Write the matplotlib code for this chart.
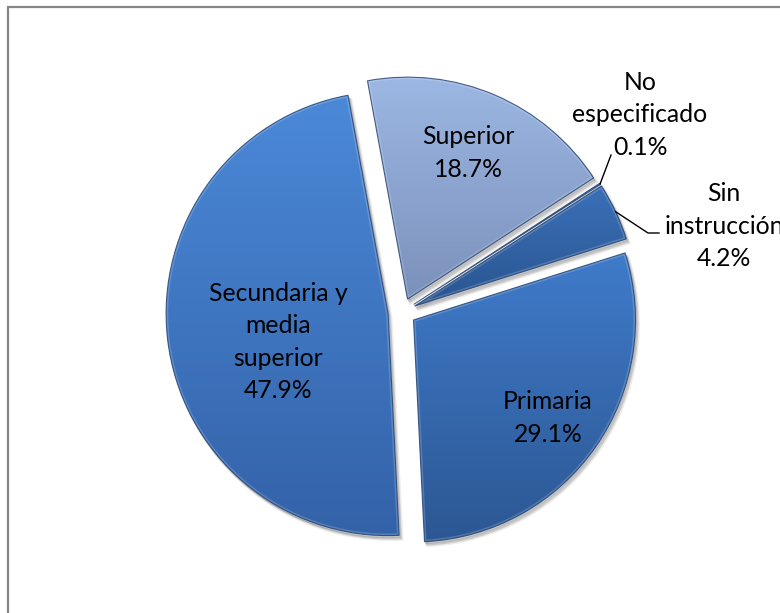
import math

import matplotlib

matplotlib.use("Agg")  # headless
import matplotlib.pyplot as plt
import numpy as np
from matplotlib.colors import LinearSegmentedColormap
from matplotlib.patches import Rectangle, Wedge

# nivel de escolaridad (%)
labels = ["Superior", "No\nespecificado", "Sin\ninstrucción", "Primaria",
          "Secundaria y\nmedia\nsuperior"]
shares = [18.7, 0.1, 4.2, 29.1, 47.9]

top_colors = ["#9db8e4", "#3b72ba", "#3a70b8", "#3f7bca", "#4b89d8"]
bottom_colors = ["#7b91bb", "#2c5690", "#2a5590", "#2c5793", "#3362a8"]

plt.rcParams["font.family"] = ["Lato", "DejaVu Sans"]

fig = plt.figure(figsize=(7.8, 6.13), dpi=100)
ax = fig.add_axes([0, 0, 1, 1])

cx, cy, r = 402, 301, 222
gap = 14

wedges, _ = ax.pie(shares, startangle=100.4, counterclock=False, radius=r,
                   center=(cx, cy), explode=[gap] * len(shares),
                   colors=bottom_colors, wedgeprops=dict(linewidth=0))

# sombra suave debajo de cada sector
for w in wedges:
    for k, (dx, dy, a) in enumerate([(3, -4, 0.10), (2, -3, 0.12), (1, -2, 0.15)]):
        s = Wedge((w.center[0] + dx, w.center[1] + dy), w.r, w.theta1, w.theta2,
                  facecolor="#555555", edgecolor="#555555", lw=2 - k * 0.6,
                  alpha=a, zorder=0.5)
        ax.add_patch(s)

# degradado vertical recortado a cada sector
for w, c_top, c_bot in zip(wedges, top_colors, bottom_colors):
    verts = w.get_path().transformed(w.get_patch_transform()).vertices
    x0, x1 = verts[:, 0].min(), verts[:, 0].max()
    y0, y1 = verts[:, 1].min(), verts[:, 1].max()
    cmap = LinearSegmentedColormap.from_list("g", [c_bot, c_top])
    grad = np.linspace(0, 1, 256).reshape(-1, 1)
    im = ax.imshow(grad, cmap=cmap, extent=(x0, x1, y0, y1), origin="lower",
                   aspect="auto", zorder=1, interpolation="bicubic")
    im.set_clip_path(w)
    # biselado: borde claro interior
    hl = Wedge(w.center, w.r, w.theta1, w.theta2, facecolor="none",
               edgecolor="white", lw=3, alpha=0.18, zorder=1.5)
    ax.add_patch(hl)
    hl.set_clip_path(w)
    w.set_facecolor("none")
    w.set_edgecolor("#1f3f6e")
    w.set_linewidth(0.8)
    w.set_alpha(0.8)
    w.set_zorder(2)

# etiquetas dentro de los sectores
inner = {0: (468, 153), 3: (548, 418), 4: (278, 342)}
for i, (x, y) in inner.items():
    ax.text(x, 613 - y, f"{labels[i]}\n{shares[i]:.1f}%", ha="center",
            va="center", fontsize=17.8, linespacing=1.5, zorder=3)

# etiquetas externas con líneas guía
outer = {1: ((640, 115), [(611, 155)]), 2: ((724, 226), [(648, 233), (659, 233)])}
for i, ((x, y), path) in outer.items():
    w = wedges[i]
    mid = math.radians((w.theta1 + w.theta2) / 2)
    sx = w.center[0] + w.r * math.cos(mid)
    sy = w.center[1] + w.r * math.sin(mid)
    xs = [sx] + [p[0] for p in path]
    ys = [sy] + [613 - p[1] for p in path]
    ax.plot(xs, ys, color="black", lw=1.0, zorder=3)
    ax.text(x, 613 - y, f"{labels[i]}\n{shares[i]:.1f}%", ha="center",
            va="center", fontsize=17.8, linespacing=1.5, zorder=3)

# marco del área del gráfico
ax.add_patch(Rectangle((8, -20), 820, 613 - 7 + 20, facecolor="none",
                       edgecolor="#878787", lw=1.6, zorder=4))

ax.set_xlim(0, 780)
ax.set_ylim(0, 613)
ax.set_aspect("equal")
ax.axis("off")

fig.savefig("out.png", dpi=100)
plt.close(fig)
